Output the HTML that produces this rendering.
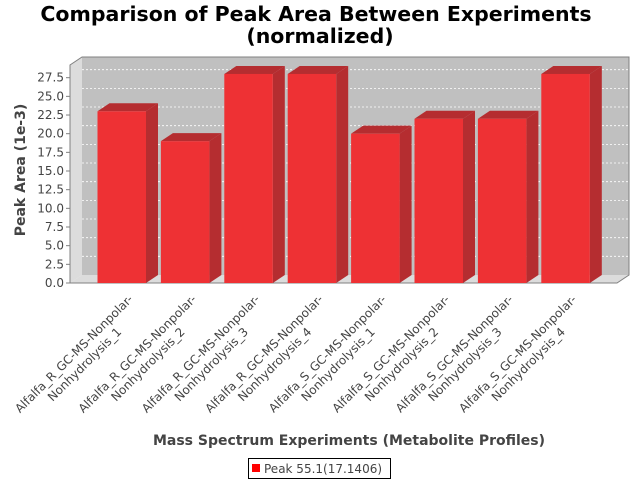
<!DOCTYPE html>
<html><head><meta charset="utf-8"><style>
html,body{margin:0;padding:0;background:#fff;}
body{width:640px;height:480px;overflow:hidden;position:relative;font-family:"DejaVu Sans","Liberation Sans",sans-serif;}
svg{position:absolute;left:0;top:0;}
</style></head><body>
<svg id="chart" width="640" height="480" xmlns="http://www.w3.org/2000/svg">
<text x="316" y="21" text-anchor="middle" font-family="DejaVu Sans, sans-serif" font-weight="bold" font-size="20.5">Comparison of Peak Area Between Experiments</text>
<text x="320" y="43" text-anchor="middle" font-family="DejaVu Sans, sans-serif" font-weight="bold" font-size="20.5">(normalized)</text>
<g id="plot"></g>
<text transform="translate(25,170) rotate(-90)" text-anchor="middle" font-family="DejaVu Sans, sans-serif" font-weight="bold" font-size="14" fill="#444">Peak Area (1e-3)</text>
<text x="349" y="445" text-anchor="middle" font-family="DejaVu Sans, sans-serif" font-weight="bold" font-size="14" fill="#444">Mass Spectrum Experiments (Metabolite Profiles)</text>
<g>
<rect x="248.5" y="458.5" width="142" height="20" fill="#fff" stroke="#000"/>
<rect x="252" y="464" width="8" height="8" fill="#ff0000"/>
<text x="264" y="473" font-family="DejaVu Sans, sans-serif" font-size="12" fill="#444">Peak 55.1(17.1406)</text>
</g>
</svg>
<script>
const categories = ["Alfalfa_R_GC-MS-Nonpolar-\nNonhydrolysis_1","Alfalfa_R_GC-MS-Nonpolar-\nNonhydrolysis_2","Alfalfa_R_GC-MS-Nonpolar-\nNonhydrolysis_3","Alfalfa_R_GC-MS-Nonpolar-\nNonhydrolysis_4","Alfalfa_S_GC-MS-Nonpolar-\nNonhydrolysis_1","Alfalfa_S_GC-MS-Nonpolar-\nNonhydrolysis_2","Alfalfa_S_GC-MS-Nonpolar-\nNonhydrolysis_3","Alfalfa_S_GC-MS-Nonpolar-\nNonhydrolysis_4"];
const values = [23,19,28,28,20,22,22,28];
const yTicks = [0,2.5,5,7.5,10,12.5,15,17.5,20,22.5,25,27.5];
const yTickLabels = ["0.0","2.5","5.0","7.5","10.0","12.5","15.0","17.5","20.0","22.5","25.0","27.5"];

const NS = "http://www.w3.org/2000/svg";
const plot = document.getElementById('plot');
const L = 70, R = 617, B = 283, T = 65, DX = 12, DY = 8;
const yMax = 29.2;
function y(v){ return B - v * (B - T) / yMax; }
const catStart = 97.5, step = 63.4, bw = 48.5;
function xLeft(i){ return catStart + i * step; }
function mk(tag, attrs){ const e = document.createElementNS(NS, tag); for (const k in attrs) e.setAttribute(k, attrs[k]); return e; }

let e = mk('polygon', {points:`${L},${T} ${L+DX},${T-DY} ${L+DX},${B-DY} ${L},${B}`, fill:'#dcdcdc', stroke:'none'});


plot.appendChild(e);
e = mk('polygon', {points:`${L},${B} ${L+DX},${B-DY} ${R+DX},${B-DY} ${R},${B}`, fill:'#dcdcdc', stroke:'none'});


plot.appendChild(e);
e = mk('rect', {x:L+DX, y:T-DY, width:R-L, height:B-T, fill:'#c0c0c0'});


plot.appendChild(e);
e = mk('polyline', {points:`${L},${B} ${L},${T} ${L+DX},${T-DY} ${R+DX},${T-DY} ${R+DX},${B-DY} ${R},${B} ${L},${B}`, fill:'none', stroke:'#808080', 'stroke-width':1});


plot.appendChild(e);

yTicks.forEach((t, i) => {
  const yy = y(t);
  if (t > 0) {
    const g = mk('line', {x1:L+DX, x2:R+DX, y1:yy-DY, y2:yy-DY, stroke:'#ffffff', 'stroke-dasharray':'2,2', 'stroke-width':0.8});
    
    
    plot.appendChild(g);
  }
  const tk = mk('line', {x1:L-4, x2:L, y1:yy, y2:yy, stroke:'#808080'});
  
  
  plot.appendChild(tk);
  const tl = mk('text', {x:L-6, y:yy+4, 'text-anchor':'end', 'font-size':12, fill:'#444', 'font-family':'DejaVu Sans, sans-serif'});
  tl.textContent = yTickLabels[i];
  
  
  plot.appendChild(tl);
});

values.forEach((v, i) => {
  const x0 = xLeft(i), yt = y(v);
  const g = mk('g', {});
  
  
  g.appendChild(mk('polygon', {points:`${x0+bw},${yt} ${x0+bw+DX},${yt-DY} ${x0+bw+DX},${B-DY} ${x0+bw},${B}`, fill:'#b52d30'}));
  g.appendChild(mk('polygon', {points:`${x0},${yt} ${x0+DX},${yt-DY} ${x0+bw+DX},${yt-DY} ${x0+bw},${yt}`, fill:'#b52d30'}));
  g.appendChild(mk('rect', {x:x0, y:yt, width:bw, height:B-yt, fill:'#ee3134'}));
  plot.appendChild(g);

  const [l1, l2] = categories[i].split('\n');
  const ax = x0 + bw/2 + 7, ay = 292;
  const lab = mk('text', {transform:`translate(${ax},${ay}) rotate(-45)`, 'font-size':12, fill:'#444', 'font-family':'DejaVu Sans, sans-serif', 'text-anchor':'middle'});
  
  
  const w1 = 165;
  const t1 = mk('tspan', {x:-w1/2, y:9}); t1.textContent = l1;
  const t2 = mk('tspan', {x:-w1/2, y:24}); t2.textContent = l2;
  lab.appendChild(t1); lab.appendChild(t2);
  plot.appendChild(lab);
});
</script>
</body></html>
